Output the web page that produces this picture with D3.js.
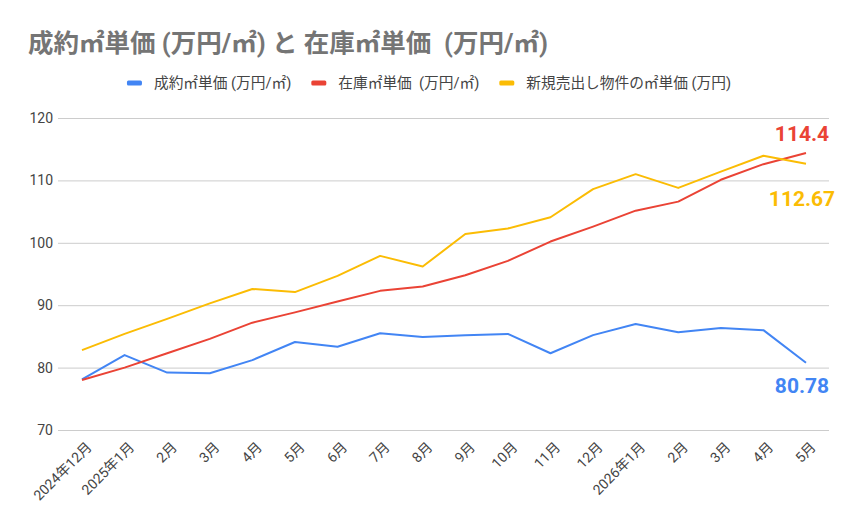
<!DOCTYPE html>
<html>
<head>
<meta charset="utf-8">
<script src="https://cdn.jsdelivr.net/npm/d3@7"></script>
<style>
  body { margin: 0; background: #fff; }
  text { font-family: Roboto, "Noto Sans CJK JP", sans-serif; white-space: pre; }
</style>
</head>
<body>
<svg id="chart" width="855" height="529"></svg>
<script>
// Months along the x axis
var months = ["2024年12月", "2025年1月", "2月", "3月", "4月", "5月", "6月", "7月", "8月",
  "9月", "10月", "11月", "12月", "2026年1月", "2月", "3月", "4月", "5月"];

// 成約㎡単価 (万円/㎡)
var contractPrice = [78.1, 82.0, 79.2, 79.1, 81.2, 84.1, 83.35, 85.5, 84.9,
  85.2, 85.4, 82.3, 85.2, 87.0, 85.65, 86.35, 86.0, 80.78];

// 在庫㎡単価 (万円/㎡)
var stockPrice = [78.0, 80.0, 82.3, 84.6, 87.2, 88.85, 90.6, 92.3, 93.0,
  94.8, 97.1, 100.2, 102.6, 105.15, 106.6, 110.1, 112.6, 114.4];

// 新規売出し物件の㎡単価 (万円)
var newListingPrice = [82.8, 85.4, 87.8, 90.3, 92.6, 92.1, 94.7, 97.9, 96.2,
  101.4, 102.3, 104.1, 108.6, 111.0, 108.8, 111.4, 113.96, 112.67];

var yTicks = [70, 80, 90, 100, 110, 120];

var series = [
  { name: "成約㎡単価 (万円/㎡)", values: contractPrice, color: "#4285f4", last: "80.78", dy: 30 },
  { name: "在庫㎡単価  (万円/㎡)", values: stockPrice, color: "#ea4335", last: "114.4", dy: -12 },
  { name: "新規売出し物件の㎡単価 (万円)", values: newListingPrice, color: "#fbbc04", last: "112.67", dy: 42 }
];

var svg = d3.select("#chart");

var x = d3.scalePoint().domain(d3.range(months.length)).range([82, 806]);
var y = d3.scaleLinear().domain([70, 120]).range([430, 118]);

// Title
svg.append("text")
  .attr("x", 28).attr("y", 52)
  .attr("font-size", 25.5).attr("font-weight", "bold")
  .attr("fill", "#757575")
  .text("成約㎡単価 (万円/㎡) と 在庫㎡単価  (万円/㎡)");

// Legend, centred above the plot
var legend = svg.append("g");
var items = legend.selectAll("g").data(series).enter().append("g");
items.append("rect")
  .attr("x", 0).attr("y", -2.5).attr("width", 15).attr("height", 5).attr("rx", 1.5)
  .attr("fill", function (d) { return d.color; });
items.append("text")
  .attr("x", 27).attr("y", 5)
  .attr("font-size", 14.7).attr("fill", "#444")
  .text(function (d) { return d.name; });

var pos = 0;
items.each(function () {
  var w = 27 + d3.select(this).select("text").node().getComputedTextLength();
  d3.select(this).attr("transform", "translate(" + pos + ",0)");
  pos += w + 20;
});
var legendWidth = pos - 20;
legend.attr("transform", "translate(" + (429 - legendWidth / 2) + ",83)");

// Y axis with gridlines
var yAxis = svg.append("g")
  .attr("transform", "translate(58,0)")
  .call(d3.axisLeft(y).tickValues(yTicks).tickSize(-771).tickPadding(5));
yAxis.select(".domain").remove();
yAxis.selectAll("line").attr("stroke", "#cccccc");
yAxis.selectAll("text").attr("font-size", 14).attr("fill", "#444")
  .attr("font-family", "Arial, 'Liberation Sans', sans-serif");

// X axis labels, rotated
var xAxis = svg.append("g")
  .attr("transform", "translate(0,430)")
  .call(d3.axisBottom(x).tickSize(0).tickFormat(function (i) { return months[i]; }));
xAxis.select(".domain").remove();
xAxis.selectAll("text")
  .attr("font-size", 14).attr("fill", "#444")
  .attr("font-family", "Arial, 'Liberation Sans', 'Noto Sans CJK JP', sans-serif")
  .attr("text-anchor", "end")
  .attr("dy", 0)
  .attr("transform", "translate(8,16) rotate(-45)");

// Lines
var line = d3.line()
  .x(function (d, i) { return x(i); })
  .y(function (d) { return y(d); });

svg.selectAll(".series").data(series).enter().append("path")
  .attr("fill", "none")
  .attr("stroke", function (d) { return d.color; })
  .attr("stroke-width", 2)
  .attr("stroke-linejoin", "round")
  .attr("d", function (d) { return line(d.values); });

// End labels
var lastIdx = months.length - 1;
svg.selectAll(".endlabel").data(series).enter().append("text")
  .attr("x", x(lastIdx) - 4)
  .attr("y", function (d) { return y(d.values[lastIdx]) + d.dy; })
  .attr("text-anchor", "middle")
  .attr("font-size", 21).attr("font-weight", "bold")
  .attr("fill", function (d) { return d.color; })
  .text(function (d) { return d.last; });
</script>
</body>
</html>
